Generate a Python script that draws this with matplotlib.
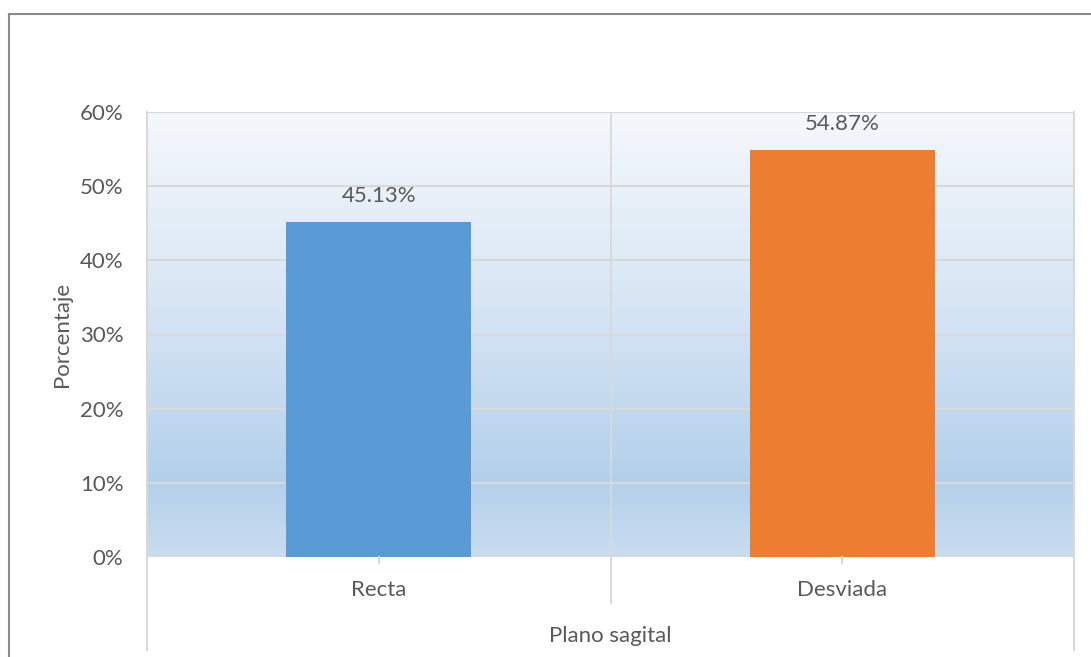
import numpy as np
import matplotlib
matplotlib.use('Agg')
import matplotlib.pyplot as plt
from matplotlib.colors import LinearSegmentedColormap
from matplotlib.lines import Line2D

plt.rcParams['font.family'] = ['Lato', 'DejaVu Sans']

# datos
categorias = ['Recta', 'Desviada']
porcentajes = [0.4513, 0.5487]
colores = ['#5B9BD5', '#ED7D31']
titulo_eje_x = 'Plano sagital'
titulo_eje_y = 'Porcentaje'
ticks_y = [0.0, 0.1, 0.2, 0.3, 0.4, 0.5, 0.6]

GRIS_TXT = '#595959'
GRIS_GRID = '#D9D9D9'
FS = 16
W, H = 1091, 657

fig = plt.figure(figsize=(W / 100, H / 100), dpi=100)
ax = fig.add_axes([147 / W, 100 / H, 927 / W, 445 / H])

x = np.arange(len(categorias))

# fondo degradado del area de trazado (claro arriba, azul abajo)
cmap = LinearSegmentedColormap.from_list(
    'fondo', [(0.0, '#F5F8FC'), (0.45, '#D6E5F4'), (0.83, '#B3D0EB'), (1.0, '#C9DDF0')])
grad = np.linspace(0, 1, 256).reshape(-1, 1)
ax.imshow(grad, extent=[-0.5, 1.5, 0.0, 0.6], aspect='auto', cmap=cmap,
          origin='upper', zorder=0, interpolation='bicubic')

# rejilla
for t in ticks_y:
    ax.axhline(t, color=GRIS_GRID, lw=1.5, zorder=1)
ax.axvline(0.5, color=GRIS_GRID, lw=1.3, zorder=1)

ax.bar(x, porcentajes, width=0.4, color=colores, zorder=2)

for xi, v in zip(x, porcentajes):
    ax.annotate(f'{v * 100:.2f}%', (xi, v), xytext=(0, 19), textcoords='offset points',
                ha='center', va='center', fontsize=FS, color=GRIS_TXT)

ax.set_xlim(-0.5, 1.5)
ax.set_ylim(0, 0.6)
ax.set_yticks(ticks_y)
ax.set_yticklabels([f'{int(round(t * 100))}%' for t in ticks_y])
ax.tick_params(axis='y', length=0, pad=17, labelsize=FS, labelcolor=GRIS_TXT)
ax.set_xticks([])
for s in ['top', 'bottom']:
    ax.spines[s].set_visible(False)
for s in ['left', 'right']:
    ax.spines[s].set_color(GRIS_GRID)
    ax.spines[s].set_linewidth(1.5)

# eje de categorias de varios niveles
tr = ax.get_xaxis_transform()
for xs, y0 in [(-0.5, -0.209), (0.5, -0.104), (1.5, -0.209)]:
    ax.add_line(Line2D([xs, xs], [0, y0], transform=tr, color=GRIS_GRID, lw=1.5, clip_on=False))
for xi in x:
    ax.add_line(Line2D([xi, xi], [0, -0.014], transform=tr, color=GRIS_GRID, lw=1.5, clip_on=False))
for xi, c in zip(x, categorias):
    ax.text(xi, -0.074, c, transform=tr, ha='center', va='center', fontsize=FS, color=GRIS_TXT)
ax.text(0.5, -0.178, titulo_eje_x, transform=tr, ha='center', va='center', fontsize=FS, color=GRIS_TXT)

fig.text(62 / W, 1 - 334 / H, titulo_eje_y, rotation=90, ha='center', va='center',
         fontsize=FS, color=GRIS_TXT)

# borde del grafico
fig.add_artist(Line2D([8.5 / W, 1.0], [1 - 13.5 / H, 1 - 13.5 / H], transform=fig.transFigure,
                      color='#8C8C8C', lw=1.5))
fig.add_artist(Line2D([8.5 / W, 8.5 / W], [0, 1 - 13.5 / H], transform=fig.transFigure,
                      color='#8C8C8C', lw=1.5))

fig.savefig('out.png', dpi=100)
